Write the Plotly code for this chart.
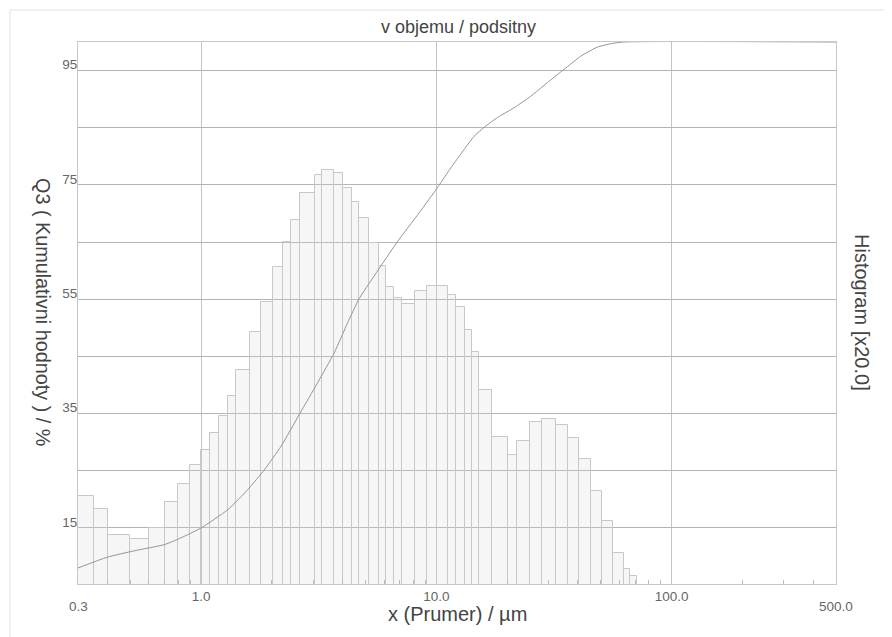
import plotly.graph_objects as go

# Histogram bin edges (µm) and bar heights (scaled)
bin_edges = [0.30, 0.351, 0.403, 0.498, 0.601, 0.705, 0.799, 0.901, 1.003, 1.095,
             1.196, 1.306, 1.408, 1.619, 1.798, 2.016, 2.223, 2.411, 2.641, 3.049,
             3.265, 3.681, 4.009, 4.377, 4.688, 5.153, 5.716, 6.085, 6.58, 7.14,
             8.10, 9.16, 11.16, 12.1, 13.2, 14.25, 15.19, 17.26, 20.26, 22.03,
             25.1, 28.2, 32.2, 36.4, 40.6, 45.3, 50.4, 56.4, 63.0, 66.5, 71.3]
hist_values = [20.65, 18.3, 13.7, 13.1, 15.0, 19.5, 22.7, 26.0, 28.6, 31.6,
               34.5, 38.0, 42.7, 49.3, 54.6, 60.6, 65.1, 68.9, 73.6, 76.8,
               77.7, 77.1, 74.4, 72.1, 69.2, 64.8, 60.9, 57.2, 55.2, 54.2,
               56.4, 57.4, 55.8, 53.6, 49.7, 45.8, 39.2, 30.9, 27.8, 30.3,
               33.6, 34.1, 33.0, 30.8, 27.0, 21.5, 16.2, 10.7, 7.8, 6.6]

# Cumulative curve Q3 (%)
cum_x = [0.30, 0.40, 0.52, 0.70, 0.82, 1.0, 1.30, 1.58, 1.86, 2.19, 2.62, 3.13,
         3.68, 4.20, 4.70, 5.81, 6.84, 8.45, 10.18, 11.53, 13.13, 14.47, 16.23,
         18.20, 21.40, 25.19, 29.67, 34.89, 41.08, 48.36, 55.08, 62.73, 500.0]
cum_y = [8.0, 9.9, 11.0, 12.1, 13.25, 15.0, 18.2, 21.7, 25.2, 29.3, 34.9, 40.4,
         45.6, 50.9, 55.1, 60.8, 65.1, 70.1, 74.7, 78.0, 81.2, 83.5, 85.3,
         86.8, 88.5, 90.5, 92.9, 95.2, 97.5, 99.1, 99.7, 100.0, 100.0]

y_grid = [15, 25, 35, 45, 55, 65, 75, 85, 95]
y_labels = ["15", "", "35", "", "55", "", "75", "", "95"]
x_ticks = [1, 10, 100]
x_ticktext = ["1.0", "10.0", "100.0"]
minor_x = [0.4, 0.5, 0.6, 0.7, 0.8, 0.9, 2, 3, 4, 5, 6, 7, 8, 9,
           20, 30, 40, 50, 60, 70, 80, 90, 200, 300, 400]

FONT = "Liberation Sans, Arial, sans-serif"
lefts = bin_edges[:-1]
widths = [r - l for l, r in zip(bin_edges[:-1], bin_edges[1:])]

fig = go.Figure()
fig.add_trace(go.Bar(
    x=lefts, y=hist_values, width=widths, offset=0,
    marker=dict(color="rgba(215,215,215,0.22)",
                line=dict(color="#c8c8c8", width=1)),
    showlegend=False, hoverinfo="skip"))
fig.add_trace(go.Scatter(
    x=cum_x, y=cum_y, mode="lines",
    line=dict(color="#959595", width=1, shape="spline", smoothing=0.5),
    showlegend=False, hoverinfo="skip"))

fig.update_layout(
    width=884, height=629,
    margin=dict(l=70, r=56, t=34, b=53),
    paper_bgcolor="white", plot_bgcolor="white",
    font=dict(family=FONT, color="#666666", size=13.5),
    bargap=0,
    xaxis=dict(type="log", range=[-0.5229, 2.699],
               tickmode="array", tickvals=x_ticks, ticktext=x_ticktext,
               showgrid=True, gridcolor="#c4c4c4", gridwidth=1,
               showline=True, linecolor="#c8c8c8", mirror=True,
               ticks="", ticklabelstandoff=0,
               tickfont=dict(size=13.5, color="#666666"),
               minor=dict(tickmode="array", tickvals=minor_x, ticks="inside",
                          ticklen=4, tickcolor="#bbbbbb", showgrid=False),
               zeroline=False),
    yaxis=dict(range=[5.2, 100], tickmode="array", tickvals=y_grid,
               ticktext=y_labels, showgrid=True, gridcolor="#b4b4b4",
               gridwidth=1, showline=True, linecolor="#c8c8c8", mirror=True,
               ticks="", ticklabelshift=-6, ticklabelstandoff=-3,
               tickfont=dict(size=13.5, color="#666666"), zeroline=False),
)

annotations = [
    dict(text="v objemu / podsitny", x=0.5026, y=1.0277, xref="paper", yref="paper",
         showarrow=False, font=dict(size=18, color="#444444", family=FONT),
         xanchor="center", yanchor="middle"),
    dict(text="x (Prumer) / µm", x=0.5007, y=-0.056, xref="paper", yref="paper",
         showarrow=False, font=dict(size=20, color="#444444", family=FONT),
         xanchor="center", yanchor="middle"),
    dict(text="Q3 ( Kumulativni hodnoty ) / %", x=-0.0462, y=0.5018, xref="paper",
         yref="paper", showarrow=False, textangle=90,
         font=dict(size=19.8, color="#444444", family=FONT),
         xanchor="center", yanchor="middle"),
    dict(text="Histogram [x20.0]", x=1.0343, y=0.50, xref="paper", yref="paper",
         showarrow=False, textangle=90,
         font=dict(size=20, color="#444444", family=FONT),
         xanchor="center", yanchor="middle"),
    dict(text="0.3", x=-0.5229, y=-0.0424, xref="x", yref="paper", showarrow=False,
         font=dict(size=13.5, color="#666666", family=FONT),
         xanchor="center", yanchor="middle"),
    dict(text="500.0", x=2.699, y=-0.0424, xref="x", yref="paper", showarrow=False,
         font=dict(size=13.5, color="#666666", family=FONT),
         xanchor="center", yanchor="middle"),
]
fig.update_layout(annotations=annotations)

fig.add_shape(type="rect", xref="paper", yref="paper",
              x0=-0.0897, x1=1.09, y0=-0.11, y1=1.059,
              line=dict(color="#e2e2e2", width=1), layer="below")

fig.write_html("out.html")
